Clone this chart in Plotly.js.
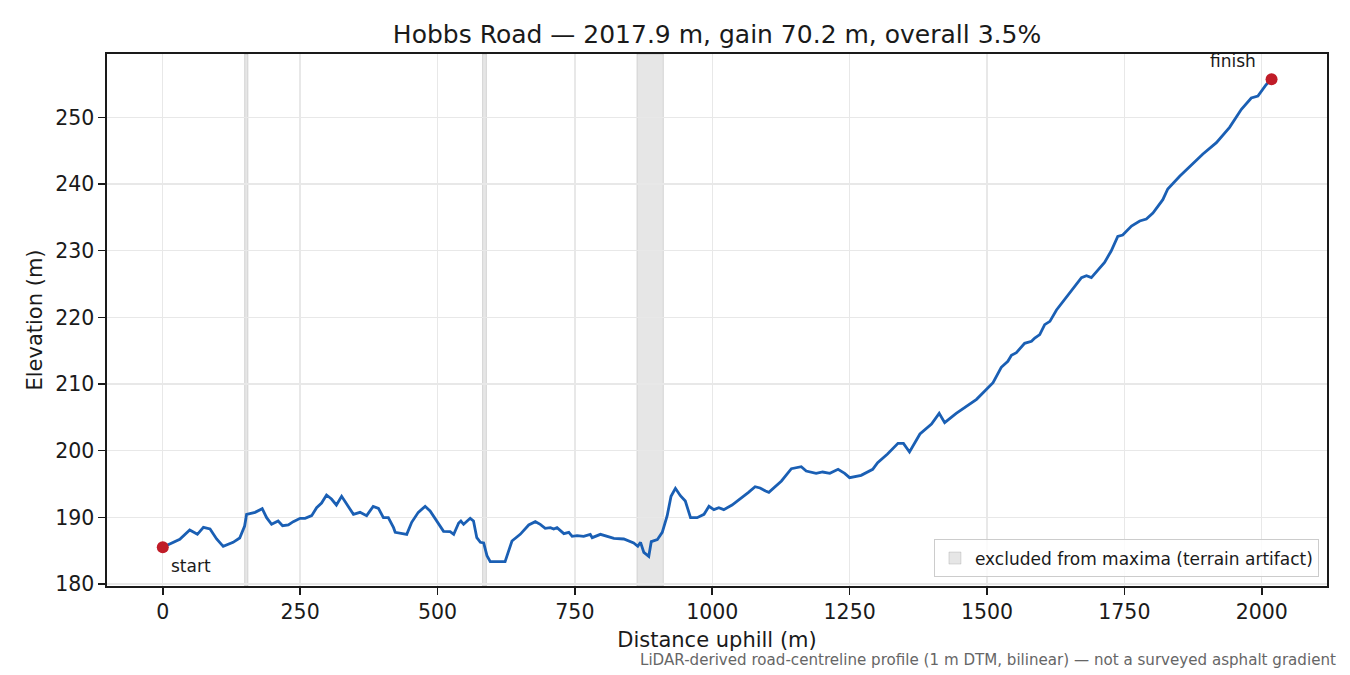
<!DOCTYPE html>
<html>
<head>
<meta charset="utf-8">
<script src="https://cdn.plot.ly/plotly-3.0.1.min.js"></script>
<style>
  html, body { margin: 0; padding: 0; background: #fff; }
  #chart { width: 1350px; height: 675px; }
</style>
</head>
<body>
<div id="chart"></div>
<script>
/* Hobbs Road elevation profile */
var DIST = [0, 16, 31, 49, 63, 74, 86, 98, 110, 128, 140, 149, 152.5, 168, 181, 189, 198, 210, 218, 228.5,
  237.5, 250, 259, 271, 280, 289, 298, 307, 316, 325.5, 334.5, 347, 359, 371, 383, 392.5, 401.5, 410.5, 420, 423,
  444, 453, 465, 477.5, 486.5, 495.5, 511, 523, 529.5, 538.5, 542.5, 547.5, 559.5, 565.5, 571.5, 578, 584, 590, 596, 623,
  629.5, 635.5, 650.5, 666, 678, 687, 696, 705.5, 711.5, 717.5, 730, 739, 745, 754, 766, 778, 781.5, 796.5, 821, 839,
  857, 864.5, 869.5, 875.5, 884.5, 889, 900, 909, 918, 925, 933, 942, 951, 960.5, 972.5, 985, 994, 1003, 1012, 1021,
  1036, 1051, 1066, 1078, 1087, 1097, 1103, 1126, 1144, 1162, 1171, 1189, 1201, 1214, 1229, 1241, 1250, 1271, 1292, 1301,
  1319, 1338, 1348, 1359, 1378, 1399, 1413, 1423, 1444, 1481, 1499, 1511, 1526, 1538, 1544.5, 1553.5, 1568.5, 1581, 1587, 1596,
  1605, 1614.5, 1626.5, 1641.5, 1656, 1672, 1681, 1690, 1714, 1726, 1738, 1747, 1763, 1778, 1790, 1802, 1820, 1829, 1850.7, 1875,
  1893, 1917.5, 1941.5, 1963, 1981, 1993, 2002, 2008, 2017.9];
var ELEV = [185.5, 186.1, 186.7, 188.1, 187.45, 188.5, 188.25, 186.75, 185.65, 186.25, 186.9, 188.7, 190.45, 190.75, 191.3, 189.95, 188.95, 189.45, 188.75, 188.85,
  189.35, 189.85, 189.85, 190.25, 191.45, 192.15, 193.35, 192.75, 191.85, 193.15, 191.95, 190.45, 190.75, 190.25, 191.65, 191.35, 189.95, 189.95, 188.45, 187.75,
  187.45, 189.25, 190.75, 191.65, 190.95, 189.75, 187.9, 187.85, 187.45, 189.15, 189.45, 188.95, 189.85, 189.45, 186.95, 186.25, 186.15, 184.25, 183.35, 183.35,
  184.95, 186.45, 187.45, 188.85, 189.35, 188.95, 188.35, 188.45, 188.25, 188.45, 187.55, 187.75, 187.15, 187.25, 187.15, 187.45, 186.95, 187.45, 186.85, 186.75,
  186.15, 185.65, 186.25, 184.75, 184.15, 186.35, 186.65, 187.75, 190.25, 193.15, 194.35, 193.25, 192.45, 189.95, 189.95, 190.45, 191.65, 191.15, 191.45, 191.15,
  191.85, 192.75, 193.75, 194.6, 194.4, 193.95, 193.75, 195.45, 197.3, 197.6, 196.95, 196.6, 196.8, 196.6, 197.2, 196.6, 195.95, 196.3, 197.2, 198.2,
  199.5, 201.1, 201.1, 199.8, 202.5, 204.0, 205.6, 204.2, 205.6, 207.7, 209.2, 210.2, 212.5, 213.4, 214.3, 214.7, 216.1, 216.4, 216.9, 217.4,
  218.9, 219.4, 221.1, 222.65, 224.25, 225.95, 226.25, 225.95, 228.25, 229.95, 232.15, 232.35, 233.7, 234.45, 234.75, 235.65, 237.65, 239.25, 241.15, 243.0,
  244.5, 246.2, 248.5, 251.2, 252.9, 253.2, 254.2, 254.9, 255.7];

/* stretches excluded from maxima (terrain artifact) */
var EXCL_START = [149, 582, 863];
var EXCL_END = [155, 589, 911];

var X_TICKS = [0, 250, 500, 750, 1000, 1250, 1500, 1750, 2000];
var Y_TICKS = [180, 190, 200, 210, 220, 230, 240, 250];

var BLUE = "#1a5fb4";
var RED = "#c01c28";
var FONT = "'DejaVu Sans', sans-serif";
var INK = "#1a1a1a";

var last = DIST.length - 1;

var traces = [
  {
    type: "scatter", mode: "lines", x: DIST, y: ELEV,
    line: { color: BLUE, width: 2.8 }, showlegend: false, hoverinfo: "skip"
  },
  {
    type: "scatter", mode: "markers", x: [DIST[0], DIST[last]], y: [ELEV[0], ELEV[last]],
    marker: { color: RED, size: 12 }, showlegend: false, hoverinfo: "skip"
  }
];

var shapes = EXCL_START.map(function (s, i) {
  return {
    type: "rect", xref: "x", yref: "paper", x0: s, x1: EXCL_END[i], y0: 0, y1: 1,
    fillcolor: "rgba(128,128,128,0.2)", line: { color: "rgba(128,128,128,0.25)", width: 1 },
    layer: "below", name: "excluded from maxima (terrain artifact)",
    showlegend: i === 0
  };
});

var axisBase = {
  showline: true, mirror: true, linecolor: INK, linewidth: 1.6,
  ticks: "outside", ticklen: 7, tickwidth: 1.6, tickcolor: INK,
  showgrid: true, gridcolor: "#e8e8e8", gridwidth: 1.4,
  zeroline: false, tickfont: { family: FONT, size: 20.5, color: INK },
  automargin: false
};

var layout = {
  width: 1350, height: 675,
  paper_bgcolor: "#fff", plot_bgcolor: "#fff",
  font: { family: FONT, color: INK },
  margin: { l: 107, r: 23, t: 54, b: 89 },
  title: {
    text: "Hobbs Road — 2017.9 m, gain 70.2 m, overall 3.5%",
    font: { family: FONT, size: 25, color: INK },
    x: 0.5, xref: "paper", y: 1 - 34 / 675, yanchor: "middle"
  },
  xaxis: Object.assign({}, axisBase, {
    range: [-101.5, 2118.8], tickvals: X_TICKS,
    title: { text: "Distance uphill (m)", font: { family: FONT, size: 21, color: INK }, standoff: 9 }
  }),
  yaxis: Object.assign({}, axisBase, {
    range: [179.7, 259.5], tickvals: Y_TICKS,
    title: { text: "Elevation (m)", font: { family: FONT, size: 21, color: INK }, standoff: 7 }
  }),
  shapes: shapes,
  showlegend: true,
  legend: {
    x: 0.9934, xanchor: "right", y: 0.016, yanchor: "bottom",
    bgcolor: "rgba(255,255,255,0.8)", bordercolor: "#cccccc", borderwidth: 1,
    font: { family: FONT, size: 17, color: INK }
  },
  annotations: [
    { x: DIST[0], y: ELEV[0], xref: "x", yref: "y", text: "start", showarrow: false,
      xanchor: "left", yanchor: "middle", xshift: 6, yshift: -19,
      font: { family: FONT, size: 17, color: INK } },
    { x: DIST[last], y: ELEV[last], xref: "x", yref: "y", text: "finish", showarrow: false,
      xanchor: "right", yanchor: "middle", xshift: -14, yshift: 18,
      font: { family: FONT, size: 17, color: INK } },
    { x: 1336, y: 660, xref: "paper", yref: "paper", text: "LiDAR-derived road-centreline profile (1 m DTM, bilinear) — not a surveyed asphalt gradient",
      showarrow: false, xanchor: "right", yanchor: "middle",
      font: { family: FONT, size: 15.1, color: "#666666" } }
  ]
};

/* footnote sits in figure pixels: convert to paper units */
var fn = layout.annotations[2];
fn.x = (1338 - 107) / (1350 - 107 - 23);
fn.y = (586 - 660) / (675 - 54 - 89);

Plotly.newPlot("chart", traces, layout, { displayModeBar: false, staticPlot: true });
</script>
</body>
</html>
